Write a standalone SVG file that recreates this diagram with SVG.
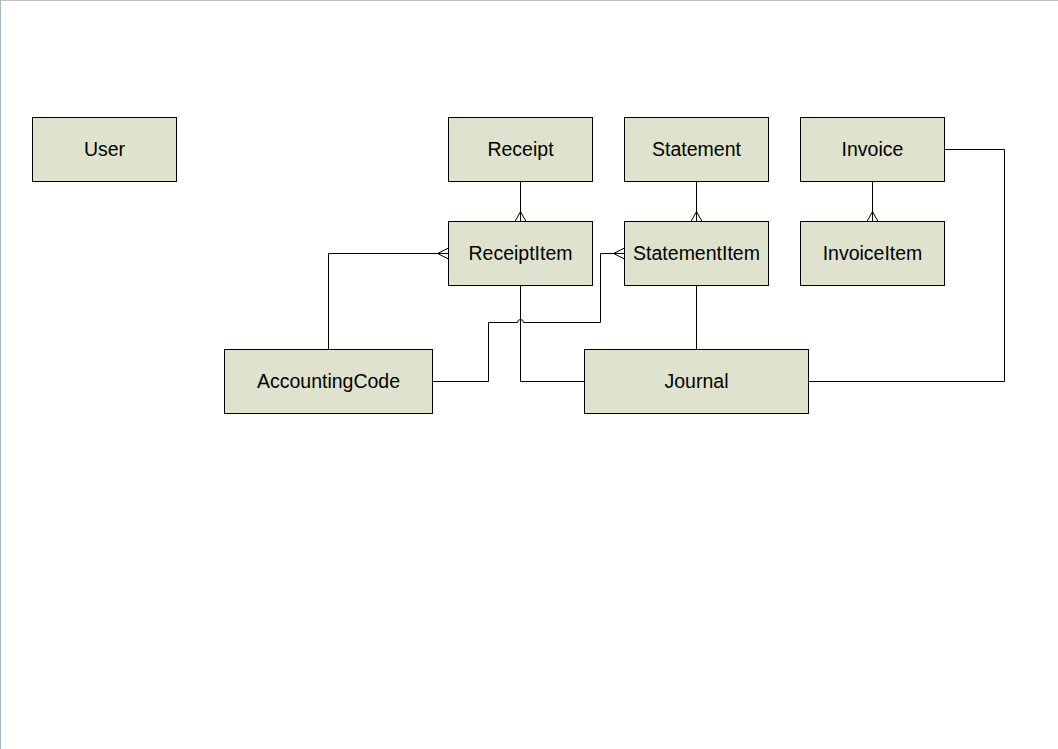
<svg xmlns="http://www.w3.org/2000/svg" width="1058" height="749" viewBox="0 0 1058 749">
<style>
.n rect{fill:#dfe3cd;stroke:#000;stroke-width:1}
.n text{font-family:"Liberation Sans",Arial,sans-serif;font-size:19.5px;fill:#000;text-anchor:middle}
.c path{fill:none;stroke:#000;stroke-width:1}
</style>
<rect x="0" y="0" width="1058" height="749" fill="#fff"/>
<line x1="0" y1="0.5" x2="1058" y2="0.5" stroke="#c0c0c0" stroke-width="1"/>
<line x1="0.5" y1="0" x2="0.5" y2="749" stroke="#a8b4c0" stroke-width="1"/>
<g id="connectors" class="c">
<path d="M520.5,181.5V221.5M515,221.5L520.5,211.5L526,221.5"/>
<path d="M696.5,181.5V221.5M691,221.5L696.5,211.5L702,221.5"/>
<path d="M872.5,181.5V221.5M867,221.5L872.5,211.5L878,221.5"/>
<path d="M328.5,349.5V253.5H448.5M448.5,248L437.5,253.5L448.5,259"/>
<path d="M432.5,381.5H488.5V322.5H517.5a3,3 0 0 1 6,0H600.5V253.5H624.5M624.5,248L613.5,253.5L624.5,259"/>
<path d="M520.5,285.5V381.5H584.5"/>
<path d="M696.5,285.5V349.5"/>
<path d="M944.5,149.5H1004.5V381.5H808.5"/>
</g>
<g id="User" class="n"><rect x="32.5" y="117.5" width="144" height="64"/><text x="104.5" y="155.5">User</text></g>
<g id="Receipt" class="n"><rect x="448.5" y="117.5" width="144" height="64"/><text x="520.5" y="155.5">Receipt</text></g>
<g id="Statement" class="n"><rect x="624.5" y="117.5" width="144" height="64"/><text x="696.5" y="155.5">Statement</text></g>
<g id="Invoice" class="n"><rect x="800.5" y="117.5" width="144" height="64"/><text x="872.5" y="155.5">Invoice</text></g>
<g id="ReceiptItem" class="n"><rect x="448.5" y="221.5" width="144" height="64"/><text x="520.5" y="259.5">ReceiptItem</text></g>
<g id="StatementItem" class="n"><rect x="624.5" y="221.5" width="144" height="64"/><text x="696.5" y="259.5">StatementItem</text></g>
<g id="InvoiceItem" class="n"><rect x="800.5" y="221.5" width="144" height="64"/><text x="872.5" y="259.5">InvoiceItem</text></g>
<g id="AccountingCode" class="n"><rect x="224.5" y="349.5" width="208" height="64"/><text x="328.5" y="387.5">AccountingCode</text></g>
<g id="Journal" class="n"><rect x="584.5" y="349.5" width="224" height="64"/><text x="696.5" y="387.5">Journal</text></g>
</svg>
